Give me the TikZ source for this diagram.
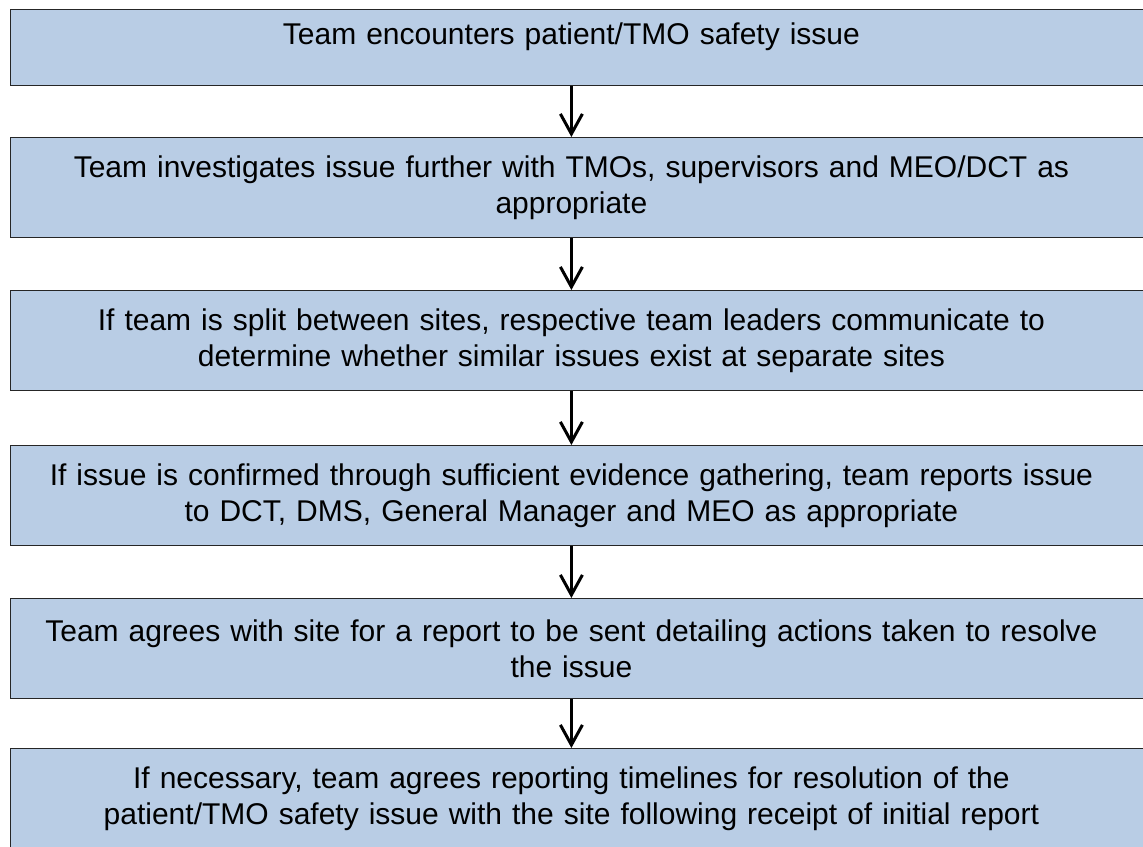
\documentclass[tikz,border=0pt]{standalone}
\usepackage{fontspec}
\setmainfont{Liberation Sans}
\usetikzlibrary{arrows.meta}
\definecolor{boxblue}{HTML}{B9CDE5}
\newcommand{\boxfont}{\fontsize{30}{35.5}\selectfont}

\begin{document}
\begin{tikzpicture}[x=1pt,y=-1pt,
   stepbox/.style={draw=black!85,line width=1.3pt,fill=boxblue,anchor=north west,
      minimum width=1140pt,minimum height=100pt,text width=1110pt,align=center,
      inner sep=0pt,font=\boxfont,
      execute at begin node={\leftskip=0pt plus 1fil\rightskip=17.5pt plus 1fil\parfillskip=0pt}},
   flow/.style={-{Straight Barb[length=20pt,width=22pt]},line width=3pt}]
   \useasboundingbox (0,0) rectangle (1143,846);
   \node[stepbox,minimum height=76pt,text height=22pt,text depth=28pt] (b1) at (9.5,9)
      {Team encounters patient/TMO safety issue};
   \node[stepbox] (b2) at (9.5,137)
      {Team investigates issue further with TMOs, supervisors and MEO/DCT as\\appropriate};
   \node[stepbox] (b3) at (9.5,290)
      {If team is split between sites, respective team leaders communicate to\\determine whether similar issues exist at separate sites};
   \node[stepbox] (b4) at (9.5,445)
      {If issue is confirmed through sufficient evidence gathering, team reports issue\\to DCT, DMS, General Manager and MEO as appropriate};
   \node[stepbox] (b5) at (9.5,598)
      {Team agrees with site for a report to be sent detailing actions taken to resolve\\the issue};
   \node[stepbox] (b6) at (9.5,748)
      {If necessary, team agrees reporting timelines for resolution of the\\patient/TMO safety issue with the site following receipt of initial report};
   % arrows between the steps (boxes run off the right edge)
   \draw[flow] ([xshift=-8.75pt]b1.south) -- ([xshift=-8.75pt]b2.north);
   \draw[flow] ([xshift=-8.75pt]b2.south) -- ([xshift=-8.75pt]b3.north);
   \draw[flow] ([xshift=-8.75pt]b3.south) -- ([xshift=-8.75pt]b4.north);
   \draw[flow] ([xshift=-8.75pt]b4.south) -- ([xshift=-8.75pt]b5.north);
   \draw[flow] ([xshift=-8.75pt]b5.south) -- ([xshift=-8.75pt]b6.north);
\end{tikzpicture}
\end{document}
